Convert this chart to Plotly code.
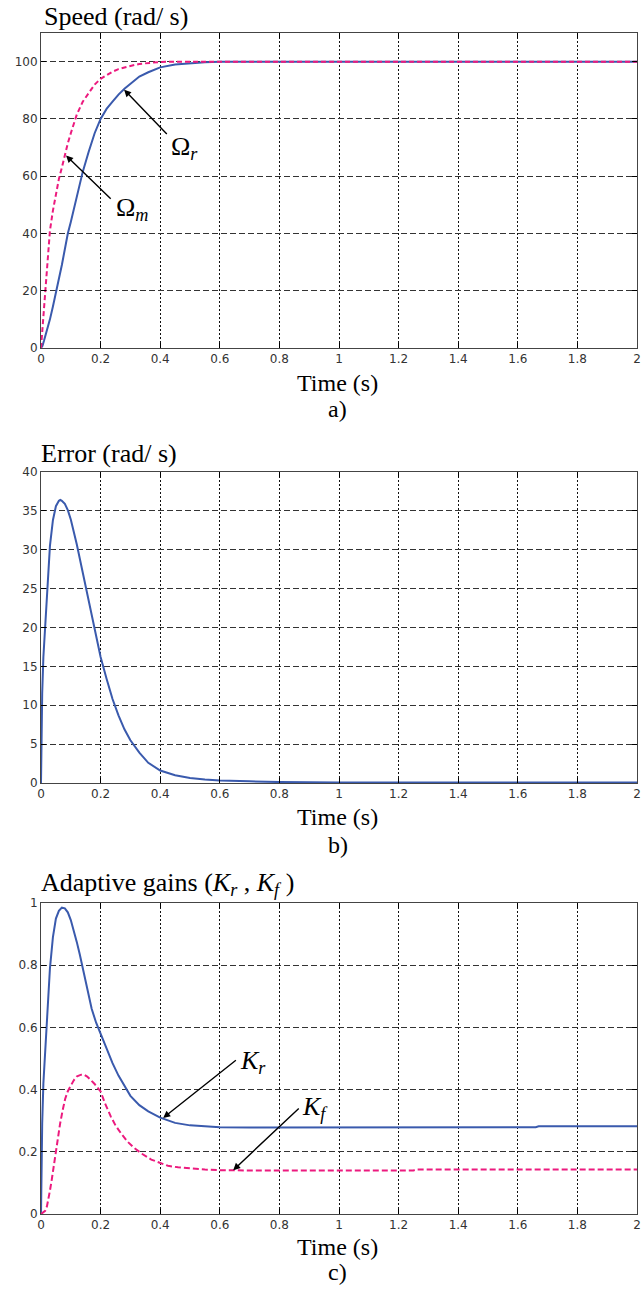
import plotly.graph_objects as go

W, H = 641, 1289

# ---------------- data ----------------
# a) Speed
t_m = [0, 0.005, 0.01, 0.02, 0.03, 0.04, 0.05, 0.06, 0.07, 0.08, 0.09, 0.1, 0.12, 0.14,
       0.16, 0.18, 0.2, 0.22, 0.24, 0.26, 0.28, 0.3, 0.33, 0.36, 0.4, 0.45, 0.5, 0.6,
       0.8, 1.0, 1.2, 1.4, 1.6, 1.8, 2.0]
omega_m = [0, 7, 14, 29, 41, 48, 54, 59, 63, 67.5, 71.5, 75, 81.5, 86, 89, 92, 94, 95.3,
           96.5, 97.4, 98, 98.5, 99.2, 99.6, 99.9, 100, 100, 100, 100, 100, 100, 100, 100,
           100, 100]
t_r = [0, 0.005, 0.01, 0.02, 0.03, 0.04, 0.05, 0.06, 0.07, 0.08, 0.09, 0.1, 0.12, 0.14,
       0.16, 0.18, 0.2, 0.22, 0.24, 0.26, 0.28, 0.3, 0.33, 0.36, 0.4, 0.45, 0.5, 0.55,
       0.6, 0.7, 0.8, 1.0, 1.2, 1.4, 1.6, 1.8, 2.0]
omega_r = [0, 0.8, 2.5, 6, 10, 14.5, 19, 24, 29, 34.5, 40, 44, 53, 61.5, 68.5, 75, 80,
           83.5, 86, 88.5, 90.5, 92.3, 94.8, 96.3, 98, 99, 99.5, 99.8, 99.95, 100, 100,
           100, 100, 100, 100, 100, 100]

# b) Error
t_e = [0, 0.001, 0.004, 0.008, 0.014, 0.02, 0.03, 0.04, 0.05, 0.06, 0.065, 0.07, 0.08,
       0.09, 0.1, 0.12, 0.14, 0.16, 0.18, 0.2, 0.22, 0.24, 0.26, 0.28, 0.3, 0.33, 0.36,
       0.4, 0.45, 0.5, 0.55, 0.6, 0.7, 0.8, 1.0, 1.2, 1.4, 1.6, 1.8, 2.0]
error = [0, 6, 11.5, 16.2, 20, 25, 30.5, 33.8, 35.6, 36.3, 36.4, 36.3, 35.9, 35.1, 33.9,
         30.7, 27.1, 23.4, 19.6, 16.2, 13.4, 10.8, 8.7, 6.9, 5.5, 3.9, 2.6, 1.6, 1.0,
         0.65, 0.45, 0.33, 0.22, 0.12, 0.08, 0.06, 0.05, 0.05, 0.05, 0.05]

# c) Adaptive gains
t_kr = [0, 0.001, 0.004, 0.008, 0.014, 0.02, 0.025, 0.03, 0.04, 0.05, 0.06, 0.07, 0.08,
        0.09, 0.1, 0.11, 0.12, 0.13, 0.14, 0.155, 0.17, 0.185, 0.2, 0.22, 0.24, 0.26,
        0.28, 0.3, 0.33, 0.36, 0.4, 0.45, 0.5, 0.55, 0.6, 0.7, 0.8, 1.0, 1.2, 1.4, 1.66,
        1.67, 2.0]
k_r = [0, 0.15, 0.29, 0.42, 0.53, 0.62, 0.71, 0.79, 0.89, 0.95, 0.975, 0.985, 0.983,
       0.97, 0.945, 0.914, 0.875, 0.835, 0.79, 0.72, 0.66, 0.615, 0.58, 0.53, 0.485,
       0.445, 0.41, 0.38, 0.35, 0.33, 0.31, 0.293, 0.285, 0.281, 0.279, 0.278, 0.278,
       0.278, 0.278, 0.278, 0.279, 0.282, 0.282]
t_kf = [0, 0.005, 0.014, 0.02, 0.025, 0.03, 0.036, 0.047, 0.055, 0.064, 0.073, 0.081,
        0.09, 0.1, 0.11, 0.121, 0.135, 0.145, 0.155, 0.166, 0.18, 0.2, 0.215, 0.234,
        0.25, 0.268, 0.29, 0.313, 0.34, 0.37, 0.4, 0.426, 0.46, 0.5, 0.55, 0.6, 0.7,
        1.0, 1.25, 1.26, 2.0]
k_f = [0, 0.003, 0.01, 0.025, 0.046, 0.075, 0.11, 0.185, 0.24, 0.29, 0.335, 0.37, 0.395,
       0.415, 0.43, 0.443, 0.448, 0.448, 0.442, 0.432, 0.418, 0.394, 0.355, 0.314, 0.285,
       0.26, 0.233, 0.212, 0.193, 0.175, 0.163, 0.155, 0.15, 0.146, 0.143, 0.141, 0.14,
       0.14, 0.14, 0.143, 0.143]

x_ticks = [0, 0.2, 0.4, 0.6, 0.8, 1, 1.2, 1.4, 1.6, 1.8, 2]
y1_ticks = [0, 20, 40, 60, 80, 100]
y2_ticks = [0, 5, 10, 15, 20, 25, 30, 35, 40]
y3_ticks = [0, 0.2, 0.4, 0.6, 0.8, 1]

BLUE = "#3a5aad"
PINK = "#ec1a7e"
SERIF = "Liberation Serif, Times New Roman, serif"
SANS = "DejaVu Sans, Arial, sans-serif"


def px(x):
    return x / W


def py(y):
    return 1 - y / H


# plot boxes in pixels: (top, bottom)
boxes = [(33, 348), (472, 783), (903, 1214)]
XL, XR = 41, 637

fig = go.Figure()

fig.add_trace(go.Scatter(x=t_r, y=omega_r, mode="lines", line=dict(color=BLUE, width=2),
                         xaxis="x", yaxis="y", showlegend=False))
fig.add_trace(go.Scatter(x=t_m, y=omega_m, mode="lines",
                         line=dict(color=PINK, width=2, dash="5px,3px"),
                         xaxis="x", yaxis="y", showlegend=False))
fig.add_trace(go.Scatter(x=t_e, y=error, mode="lines", line=dict(color=BLUE, width=2),
                         xaxis="x2", yaxis="y2", showlegend=False))
fig.add_trace(go.Scatter(x=t_kr, y=k_r, mode="lines", line=dict(color=BLUE, width=2),
                         xaxis="x3", yaxis="y3", showlegend=False))
fig.add_trace(go.Scatter(x=t_kf, y=k_f, mode="lines",
                         line=dict(color=PINK, width=2, dash="6px,3px"),
                         xaxis="x3", yaxis="y3", showlegend=False))

common_x = dict(range=[0, 2], tickvals=x_ticks, ticks="inside", ticklen=5,
                tickcolor="#000", showline=True, linecolor="#444", linewidth=1,
                mirror="ticks", showgrid=True, gridcolor="#111", gridwidth=1,
                griddash="2px,2px", zeroline=False, automargin=False,
                tickfont=dict(family=SANS, size=12, color="#333"))
common_y = dict(ticks="inside", ticklen=5, tickcolor="#000", showline=True,
                linecolor="#444", linewidth=1, mirror="ticks", showgrid=True,
                gridcolor="#333", gridwidth=1, griddash="6px,3px", zeroline=False,
                automargin=False,
                tickfont=dict(family=SANS, size=12, color="#333"))

layout = dict(width=W, height=H, margin=dict(l=0, r=0, t=0, b=0, autoexpand=False),
              paper_bgcolor="white", plot_bgcolor="white", showlegend=False)
yranges = [[0, 110], [0, 40], [0, 1]]
yticks = [y1_ticks, y2_ticks, y3_ticks]
for i, (top, bot) in enumerate(boxes):
    sfx = "" if i == 0 else str(i + 1)
    layout["xaxis" + sfx] = dict(common_x, domain=[px(XL), px(XR)],
                                 anchor="y" + sfx)
    layout["yaxis" + sfx] = dict(common_y, domain=[py(bot), py(top)],
                                 anchor="x" + sfx, range=yranges[i],
                                 tickvals=yticks[i])
fig.update_layout(**layout)

# ---- text annotations (titles, axis labels, panel letters)
def ptext(text, x, y, size, xanchor="center"):
    fig.add_annotation(text=text, x=px(x), y=py(y), xref="paper", yref="paper",
                       showarrow=False, xanchor=xanchor, yanchor="middle",
                       font=dict(family=SERIF, size=size, color="#000"))


ptext("Speed (rad/ s)", 42, 17, 26, "left")
ptext("Error (rad/ s)", 39, 453, 26, "left")
ptext("Adaptive gains (<i>K</i><sub><i>r</i></sub> , <i>K</i><sub><i>f</i></sub> )",
      39, 884, 26, "left")
for ytime, yletter, letter in [(383, 409, "a)"), (817, 845, "b)"), (1247, 1272, "c)")]:
    ptext("Time (s)", 338, ytime, 24)
    ptext(letter, 338, yletter, 24)

# ---- arrows with labels (data coordinates)
def arrow(xa, ya, tip_x, tip_y, tail_x, tail_y):
    fig.add_annotation(x=tip_x, y=tip_y, ax=tail_x, ay=tail_y, xref=xa, yref=ya,
                       axref=xa, ayref=ya, text="", showarrow=True, arrowhead=2,
                       arrowsize=1, arrowwidth=1.4, arrowcolor="#000")


def label(xa, ya, text, x, y, size=26):
    fig.add_annotation(x=x, y=y, xref=xa, yref=ya, text=text, showarrow=False,
                       xanchor="left", yanchor="middle",
                       font=dict(family=SERIF, size=size, color="#000"))


arrow("x", "y", 0.279, 90.2, 0.427, 74.2)
label("x", "y", "Ω<sub><i>r</i></sub>", 0.43, 70)
arrow("x", "y", 0.084, 67.2, 0.239, 51.6)
label("x", "y", "Ω<sub><i>m</i></sub>", 0.245, 48.5)
arrow("x3", "y3", 0.41, 0.309, 0.659, 0.498)
label("x3", "y3", "<i>K</i><sub><i>r</i></sub>", 0.66, 0.49)
arrow("x3", "y3", 0.645, 0.141, 0.87, 0.344)
label("x3", "y3", "<i>K</i><sub><i>f</i></sub>", 0.87, 0.34)

fig.write_html("out.html", config={"displayModeBar": False},
               post_script="document.body.style.margin='0';")
